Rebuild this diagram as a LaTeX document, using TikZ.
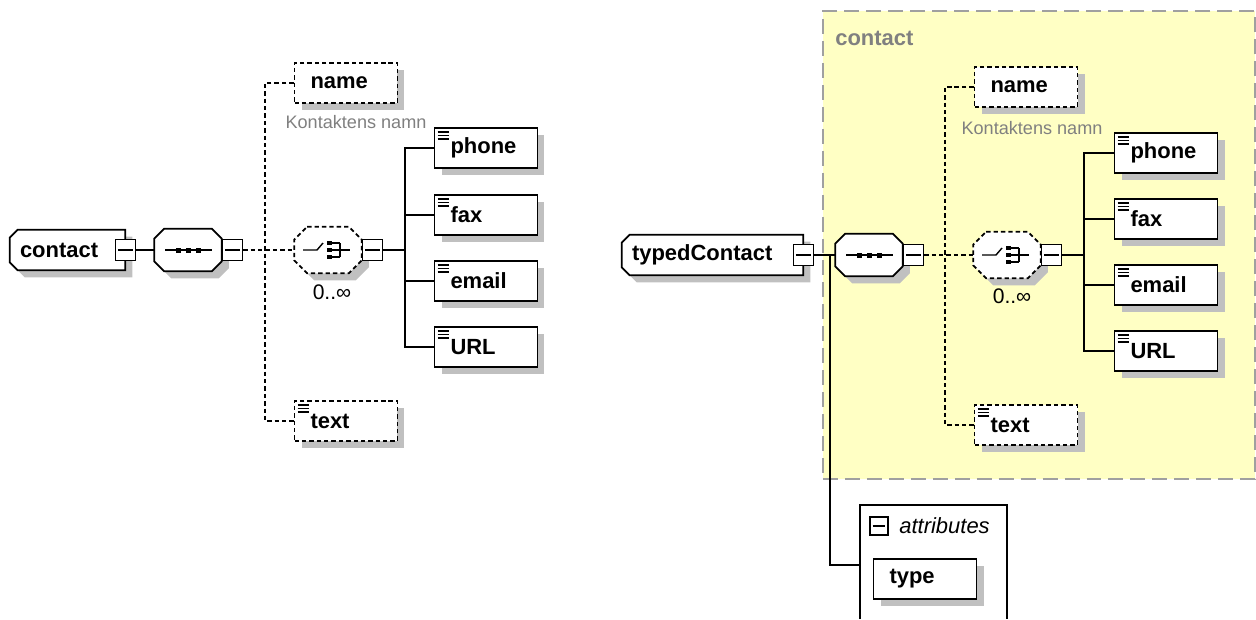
\documentclass[tikz,border=0pt]{standalone}
\usepackage{fontspec}
\setmainfont{Liberation Sans}
\usepackage{xcolor}
\usepackage{tikz}
\usetikzlibrary{calc,positioning,shadows,backgrounds}

\definecolor{groupyellow}{HTML}{FFFFC4}
\definecolor{shadowgray}{HTML}{C0C0C0}
\definecolor{framegray}{HTML}{A0A0A0}
\definecolor{docgray}{HTML}{808080}

% octagon round a node: node, chamfer (px), style
\newcommand{\octshape}[3]{%
	\begin{scope}[on background layer]
	\draw[#3] ($(#1.north west)+(#2,0)$) -- ($(#1.north east)+(-#2,0)$) -- ($(#1.north east)+(0,#2)$)
		-- ($(#1.south east)+(0,-#2)$) -- ($(#1.south east)+(-#2,0)$) -- ($(#1.south west)+(#2,0)$)
		-- ($(#1.south west)+(0,-#2)$) -- ($(#1.north west)+(0,#2)$) -- cycle;
	\end{scope}
}
% box with the left corners cut
\newcommand{\topshape}[2]{%
	\begin{scope}[on background layer]
	\draw[#2] ($(#1.north west)+(8,0)$) -- (#1.north east) -- (#1.south east) -- ($(#1.south west)+(8,0)$)
		-- ($(#1.south west)+(0,-8)$) -- ($(#1.north west)+(0,8)$) -- cycle;
	\end{scope}
}
\newcommand{\seqicon}[1]{%
	\draw[line width=0.8pt] ($(#1)+(-23,0)$) -- ($(#1)+(24,0)$);
	\foreach \dx in {-10,0,10} \fill ($(#1)+(\dx,0)$) +(-2.5,-2.5) rectangle +(2.5,2.5);
}
\newcommand{\choiceicon}[1]{%
	\draw[line width=0.8pt] ($(#1)+(-25,0)$) -- ++(14,0) -- ++(6,-7);
	\foreach \dy in {-7,0,7} {
		\fill ($(#1)+(1.5,\dy)$) +(-2.3,-2.3) rectangle +(2.3,2.3);
		\draw[line width=0.8pt] ($(#1)+(4,\dy)$) -- ($(#1)+(12,\dy)$);
	}
	\draw[line width=0.8pt] ($(#1)+(12,-7)$) -- ($(#1)+(12,7)$);
	\draw[line width=0.8pt] ($(#1)+(12,0)$) -- ($(#1)+(22,0)$);
}

\begin{document}
\begin{tikzpicture}[x=0.02cm, y=-0.02cm,
	every node/.style={font=\fontsize{12.5}{14}\selectfont\bfseries},
	boxshadow/.style={drop shadow={shadow xshift=0.14cm, shadow yshift=-0.14cm, fill=shadowgray, opacity=1}},
	outline/.style={line width=1pt, fill=white, boxshadow},
	elem/.style={draw, outline, minimum height=0.8cm, text width=1.42cm, inner xsep=0.32cm, inner ysep=0pt, align=left},
	topelem/.style={minimum height=0.8cm, inner xsep=0.2cm, inner ysep=0pt, align=left},
	comp/.style={minimum width=1.34cm, minimum height=0.84cm, inner sep=0pt},
	choicebox/.style={minimum width=1.34cm, minimum height=0.92cm, inner sep=0pt},
	optional/.style={dash pattern=on 2.5pt off 1.7pt},
	simple/.style={path picture={\foreach \k in {2.3,4.3,6.3} \draw[solid, line width=0.7pt] ([xshift=1.7pt,yshift={-\k*1pt}]path picture bounding box.north west) -- ++(6.3pt,0);}},
	minusbox/.style={draw, solid, line width=0.8pt, fill=white, minimum width=0.4cm, minimum height=0.42cm, inner sep=0pt, path picture={\draw[line width=0.8pt] ([xshift=1.5pt]path picture bounding box.west) -- ([xshift=-1.5pt]path picture bounding box.east);}},
	conn/.style={line width=0.8pt},
	occurs/.style={font=\fontsize{12}{14}\selectfont},
	docnote/.style={font=\fontsize{10.3}{12}\selectfont, text=docgray},
	groupbox/.style={draw=framegray, fill=groupyellow, line width=1.1pt, dash pattern=on 8.5pt off 4pt, minimum width=8.64cm, minimum height=9.36cm, inner sep=0pt}
]
	\useasboundingbox (0,0) rectangle (1256,619);

	% left: contact
	\node[topelem, text width=1.9cm] (contactL) at (67.5,250) {contact};
	\topshape{contactL}{outline}
	\node[minusbox] (contactL-m) at (contactL.east) {};
	\node[comp] (seqL) at (188,250) {};
	\octshape{seqL}{10}{outline}
	\node[minusbox, anchor=west] (seqL-m) at (seqL.east) {};
	\seqicon{seqL}
	\node[choicebox] (choiceL) at (328,250) {};
	\octshape{choiceL}{13}{outline, optional}
	\node[minusbox, anchor=west] (choiceL-m) at (choiceL.east) {};
	\choiceicon{choiceL}
	\node[occurs] (choiceL-occ) at (332,292) {0..∞};

	\node[elem, optional] (nameL) at (346,83) {name};
	\node[docnote] (nameL-doc) at (356,122) {Kontaktens namn};
	\node[elem, simple] (phoneL) at (486,148) {phone};
	\node[elem, simple] (faxL) at (486,215) {fax};
	\node[elem, simple] (emailL) at (486,281) {email};
	\node[elem, simple] (urlL) at (486,347) {URL};
	\node[elem, simple, optional] (textL) at (346,421) {text};

	\coordinate (seqL-branch) at (265,250);
	\coordinate (choiceL-branch) at (405,250);

	\draw[conn] (contactL-m.east) -- (seqL.west);
	\draw[conn, optional] (seqL-m.east) -- (choiceL.west);
	\draw[conn, optional] (nameL.west) -| (seqL-branch) |- (textL.west);
	\draw[conn] (choiceL-m.east) -- (choiceL-branch);
	\draw[conn] (phoneL.west) -| (choiceL-branch) |- (urlL.west);
	\draw[conn] (faxL.west) -- (faxL.west -| choiceL-branch);
	\draw[conn] (emailL.west) -- (emailL.west -| choiceL-branch);

	% right: typedContact
	\begin{scope}[on background layer]
		\node[groupbox, anchor=north west] (grp) at (822,10) {};
	\end{scope}
	\node[text=docgray, anchor=west, inner sep=0pt] (grp-label) at (835,38) {contact};

	\node[topelem, text width=3.22cm] (tcR) at (712.5,255) {typedContact};
	\topshape{tcR}{outline}
	\node[minusbox] (tcR-m) at (tcR.east) {};
	\node[comp] (seqR) at (869,255) {};
	\octshape{seqR}{10}{outline}
	\node[minusbox, anchor=west] (seqR-m) at (seqR.east) {};
	\seqicon{seqR}
	\node[choicebox] (choiceR) at (1007,255) {};
	\octshape{choiceR}{13}{outline, optional}
	\node[minusbox, anchor=west] (choiceR-m) at (choiceR.east) {};
	\choiceicon{choiceR}
	\node[occurs] (choiceR-occ) at (1012,296) {0..∞};

	\node[elem, optional] (nameR) at (1026,87) {name};
	\node[docnote] (nameR-doc) at (1032,128) {Kontaktens namn};
	\node[elem, simple] (phoneR) at (1166,153) {phone};
	\node[elem, simple] (faxR) at (1166,219) {fax};
	\node[elem, simple] (emailR) at (1166,285) {email};
	\node[elem, simple] (urlR) at (1166,351) {URL};
	\node[elem, simple, optional] (textR) at (1026,425) {text};

	\coordinate (tcR-branch) at (830,255);
	\coordinate (seqR-branch) at (945,255);
	\coordinate (choiceR-branch) at (1084,255);

	\draw[conn] (tcR-m.east) -- (seqR.west);
	\draw[conn, optional] (seqR-m.east) -- (choiceR.west);
	\draw[conn, optional] (nameR.west) -| (seqR-branch) |- (textR.west);
	\draw[conn] (choiceR-m.east) -- (choiceR-branch);
	\draw[conn] (phoneR.west) -| (choiceR-branch) |- (urlR.west);
	\draw[conn] (faxR.west) -- (faxR.west -| choiceR-branch);
	\draw[conn] (emailR.west) -- (emailR.west -| choiceR-branch);

	% attributes
	\draw[conn] (860,619) |- (1007,505) -- (1007,619);
	\coordinate (attr-in) at (860,565);
	\node[minusbox, line width=0.6pt, minimum width=0.36cm, minimum height=0.36cm] (attr-m) at (879,526) {};
	\node[font=\fontsize{12.5}{14}\selectfont\itshape, anchor=west, inner sep=0pt] (attr-label) at (899,526) {attributes};
	\node[elem] (typeR) at (925,579) {type};
	\draw[conn] (tcR-branch) |- (attr-in);

\end{tikzpicture}
\end{document}
